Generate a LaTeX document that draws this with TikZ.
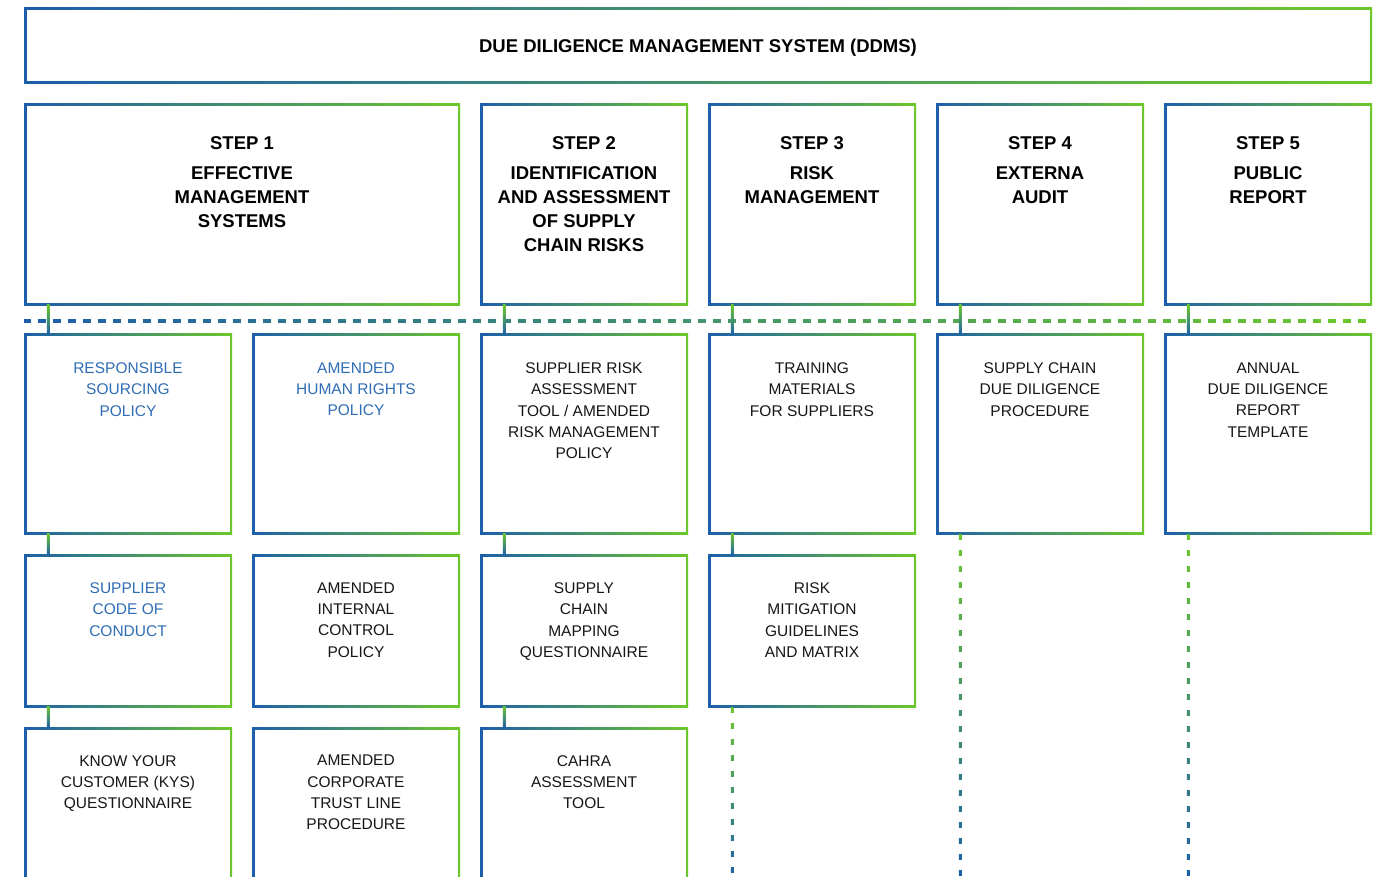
\documentclass[tikz,border=0pt]{standalone}
\usepackage{fontspec}
\setmainfont{Liberation Sans}
\usetikzlibrary{calc}
\definecolor{dblue}{HTML}{1B5FAA}
\definecolor{dgreen}{HTML}{6CC72B}
\definecolor{tblue}{HTML}{2F6DB5}
\definecolor{tdark}{HTML}{161616}
\newcommand\gconn[2]{\shade[top color=dgreen, bottom color=dblue] ($(#1.south -| #2.west)+(22.75,-1)$) rectangle ($(#2.north west)+(25.25,1)$);}
\newcommand\gdash[1]{\shade[top color=dgreen, bottom color=dblue] ($(#1.south west)+(22.75,0)$) rectangle ($(#1.south west |- bot)+(25.25,0)$);
  \draw[white, line width=4pt, dash pattern=on 10pt off 6pt, dash phase=10pt] ($(#1.south west)+(24,0)$) -- ($(#1.south west |- bot)+(24,0)$);}
\begin{document}
\begin{tikzpicture}[x=1pt,y=-1pt,
  gbox/.style={rectangle, inner sep=0pt, outer sep=0pt, anchor=north west,
    left color=dblue, right color=dgreen,
    path picture={\fill[white] ([shift={(2.5pt,2.5pt)}]path picture bounding box.south west) rectangle ([shift={(-2.5pt,-2.5pt)}]path picture bounding box.north east);}},
  stepbox/.style={gbox, minimum height=202pt},
  rowone/.style={gbox, minimum width=208pt, minimum height=200pt},
  rowtwo/.style={gbox, minimum width=208pt, minimum height=153pt},
  rowthree/.style={gbox, minimum width=208pt, minimum height=180pt},
  ttl/.style={font=\bfseries\fontsize{18.5}{24}\selectfont, text=black, align=center, anchor=north, inner sep=0pt},
  body/.style={font=\fontsize{15.5}{21.3}\selectfont, text=tdark, align=center, anchor=north, inner sep=0pt},
  bbody/.style={body, text=tblue},
]
\useasboundingbox (0,0) rectangle (1382,877);
\clip (0,0) rectangle (1382,877);
\coordinate (bot) at (0,880);
\coordinate (hl) at (0,321);

% top box
\node[gbox, minimum width=1348pt, minimum height=76pt] (ddms) at (24,8) {};
\node[ttl, anchor=center] (ddmst) at ($(ddms.center)+(0,1.5)$) {DUE DILIGENCE MANAGEMENT SYSTEM (DDMS)};

% step boxes
\node[stepbox, minimum width=436pt] (s1) at (24,104) {};
\node[stepbox, minimum width=208pt] (s2) at (480,104) {};
\node[stepbox, minimum width=208pt] (s3) at (708,104) {};
\node[stepbox, minimum width=208pt] (s4) at (936,104) {};
\node[stepbox, minimum width=208pt] (s5) at (1164,104) {};
\node[ttl] (s1t) at ($(s1.north)+(0,32)$) {STEP 1\\[6pt]EFFECTIVE\\MANAGEMENT\\SYSTEMS};
\node[ttl] (s2t) at ($(s2.north)+(0,32)$) {STEP 2\\[6pt]IDENTIFICATION\\AND ASSESSMENT\\OF SUPPLY\\CHAIN RISKS};
\node[ttl] (s3t) at ($(s3.north)+(0,32)$) {STEP 3\\[6pt]RISK\\MANAGEMENT};
\node[ttl] (s4t) at ($(s4.north)+(0,32)$) {STEP 4\\[6pt]EXTERNA\\AUDIT};
\node[ttl] (s5t) at ($(s5.north)+(0,32)$) {STEP 5\\[6pt]PUBLIC\\REPORT};

% row 1
\node[rowone] (a1) at (24,334) {};
\node[rowone] (a2) at (252,334) {};
\node[rowone] (a3) at (480,334) {};
\node[rowone] (a4) at (708,334) {};
\node[rowone] (a5) at (936,334) {};
\node[rowone] (a6) at (1164,334) {};
\node[bbody] (a1t) at ($(a1.north)+(0,28.5)$) {RESPONSIBLE\\SOURCING\\POLICY};
\node[bbody] (a2t) at ($(a2.north)+(0,28.5)$) {AMENDED\\HUMAN RIGHTS\\POLICY};
\node[body] (a3t) at ($(a3.north)+(0,28.5)$) {SUPPLIER RISK\\ASSESSMENT\\TOOL / AMENDED\\RISK MANAGEMENT\\POLICY};
\node[body] (a4t) at ($(a4.north)+(0,28.5)$) {TRAINING\\MATERIALS\\FOR SUPPLIERS};
\node[body] (a5t) at ($(a5.north)+(0,28.5)$) {SUPPLY CHAIN\\DUE DILIGENCE\\PROCEDURE};
\node[body] (a6t) at ($(a6.north)+(0,28.5)$) {ANNUAL\\DUE DILIGENCE\\REPORT\\TEMPLATE};

% row 2
\node[rowtwo] (b1) at (24,554) {};
\node[rowtwo] (b2) at (252,554) {};
\node[rowtwo] (b3) at (480,554) {};
\node[rowtwo] (b4) at (708,554) {};
\node[bbody] (b1t) at ($(b1.north)+(0,28.5)$) {SUPPLIER\\CODE OF\\CONDUCT};
\node[body] (b2t) at ($(b2.north)+(0,28.5)$) {AMENDED\\INTERNAL\\CONTROL\\POLICY};
\node[body] (b3t) at ($(b3.north)+(0,28.5)$) {SUPPLY\\CHAIN\\MAPPING\\QUESTIONNAIRE};
\node[body] (b4t) at ($(b4.north)+(0,28.5)$) {RISK\\MITIGATION\\GUIDELINES\\AND MATRIX};

% row 3
\node[rowthree] (c1) at (24,727) {};
\node[rowthree] (c2) at (252,727) {};
\node[rowthree] (c3) at (480,727) {};
\node[body] (c1t) at ($(c1.north)+(0,28)$) {KNOW YOUR\\CUSTOMER (KYS)\\QUESTIONNAIRE};
\node[body] (c2t) at ($(c2.north)+(0,28)$) {AMENDED\\CORPORATE\\TRUST LINE\\PROCEDURE};
\node[body] (c3t) at ($(c3.north)+(0,28)$) {CAHRA\\ASSESSMENT\\TOOL};

% horizontal dashed line
\shade[left color=dblue, right color=dgreen] ($(ddms.west |- hl)+(0,-1.25)$) rectangle ($(ddms.east |- hl)+(0,1.25)$);
\draw[white, line width=4pt, dash pattern=on 7pt off 8pt, dash phase=7pt] ($(ddms.west |- hl)+(-1,0)$) -- ($(ddms.east |- hl)+(1,0)$);

% solid connectors
\gconn{s1}{a1}
\gconn{a1}{b1}
\gconn{b1}{c1}
\gconn{s2}{a3}
\gconn{a3}{b3}
\gconn{b3}{c3}
\gconn{s3}{a4}
\gconn{a4}{b4}
\gconn{s4}{a5}
\gconn{s5}{a6}

% dashed connectors
\gdash{b4}
\gdash{a5}
\gdash{a6}
\end{tikzpicture}
\end{document}
